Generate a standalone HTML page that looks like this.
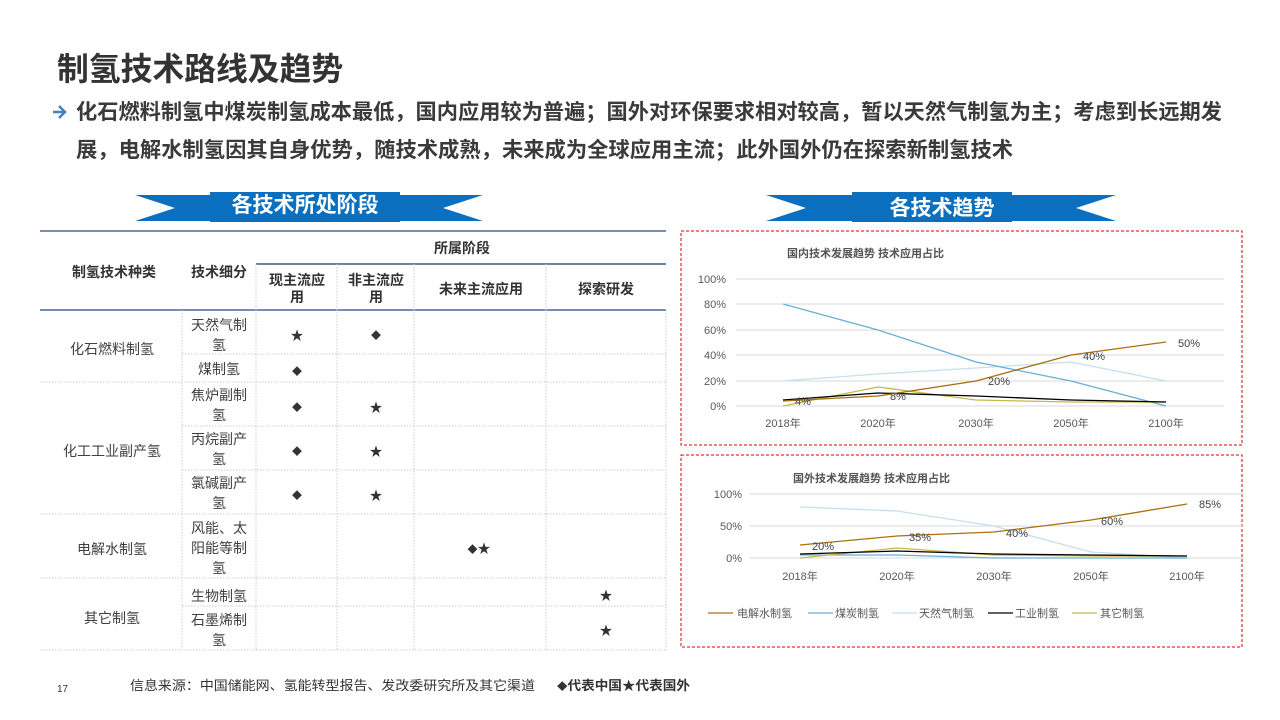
<!DOCTYPE html>
<html><head><meta charset="utf-8"><style>
body{margin:0;background:#fff;}
svg{display:block;font-family:"Liberation Sans","Noto Sans CJK SC",sans-serif;}
</style></head><body>
<svg width="1280" height="720" viewBox="0 0 1280 720" xmlns="http://www.w3.org/2000/svg">
<rect width="1280" height="720" fill="#fff"/>
<text x="57" y="80" font-size="31.8" font-weight="bold" fill="#333">制氢技术路线及趋势</text>
<path d="M53 112 h11 M59 106 l6 6 l-6 6" stroke="#4a7ebb" stroke-width="2.5" fill="none"/>
<text x="76" y="119" font-size="21.3" font-weight="bold" fill="#3a3a3a" textLength="1146" lengthAdjust="spacingAndGlyphs">化石燃料制氢中煤炭制氢成本最低，国内应用较为普遍；国外对环保要求相对较高，暂以天然气制氢为主；考虑到长远期发</text>
<text x="76" y="157" font-size="21.3" font-weight="bold" fill="#3a3a3a">展，电解水制氢因其自身优势，随技术成熟，未来成为全球应用主流；此外国外仍在探索新制氢技术</text>

<!-- banners -->
<g fill="#0a6fbf">
<polygon points="135,195 300,195 300,221 135,221 175,208"/>
<polygon points="483,195 320,195 320,221 483,221 443,208"/>
<rect x="210" y="192" width="190" height="30"/>
<polygon points="766,195 930,195 930,221 766,221 806,208"/>
<polygon points="1116,195 950,195 950,221 1116,221 1076,208"/>
<rect x="852" y="192" width="160" height="30"/>
</g>
<text x="305" y="212" font-size="21" font-weight="bold" fill="#fff" text-anchor="middle">各技术所处阶段</text>
<text x="942" y="215" font-size="21" font-weight="bold" fill="#fff" text-anchor="middle">各技术趋势</text>

<!-- table -->
<g font-size="14" fill="#404040" text-anchor="middle">
<line x1="40" y1="231" x2="666" y2="231" stroke="#4a6a94" stroke-width="1.5"/>
<line x1="256" y1="264" x2="666" y2="264" stroke="#1f3a60" stroke-width="1.2"/>
<line x1="40" y1="310" x2="666" y2="310" stroke="#4a6a94" stroke-width="1.5"/>
<g stroke="#ccc" stroke-dasharray="1.5,1.5" stroke-width="1">
<line x1="182" y1="354" x2="666" y2="354"/>
<line x1="40" y1="382" x2="666" y2="382"/>
<line x1="182" y1="426" x2="666" y2="426"/>
<line x1="182" y1="470" x2="666" y2="470"/>
<line x1="40" y1="514" x2="666" y2="514"/>
<line x1="40" y1="578" x2="666" y2="578"/>
<line x1="182" y1="606" x2="666" y2="606"/>
<line x1="40" y1="650" x2="666" y2="650"/>
<line x1="182" y1="310" x2="182" y2="650"/>
<line x1="256" y1="264" x2="256" y2="650"/>
<line x1="337" y1="264" x2="337" y2="650"/>
<line x1="414" y1="264" x2="414" y2="650"/>
<line x1="546" y1="264" x2="546" y2="650"/>
<line x1="666" y1="310" x2="666" y2="650"/>
</g>
<g font-weight="bold" fill="#333">
<text x="462" y="253">所属阶段</text>
<text x="114" y="277">制氢技术种类</text>
<text x="219" y="277">技术细分</text>
<text x="297" y="285">现主流应</text><text x="297" y="302">用</text>
<text x="376" y="285">非主流应</text><text x="376" y="302">用</text>
<text x="481" y="294">未来主流应用</text>
<text x="606" y="294">探索研发</text>
</g>
<text x="112" y="354">化石燃料制氢</text>
<text x="219" y="330">天然气制</text><text x="219" y="350">氢</text>
<text x="219" y="374">煤制氢</text>
<text x="112" y="456">化工工业副产氢</text>
<text x="219" y="400">焦炉副制</text><text x="219" y="420">氢</text>
<text x="219" y="444">丙烷副产</text><text x="219" y="464">氢</text>
<text x="219" y="488">氯碱副产</text><text x="219" y="508">氢</text>
<text x="112" y="554">电解水制氢</text>
<text x="219" y="533">风能、太</text><text x="219" y="553">阳能等制</text><text x="219" y="573">氢</text>
<text x="112" y="623">其它制氢</text>
<text x="219" y="601">生物制氢</text>
<text x="219" y="625">石墨烯制</text><text x="219" y="645">氢</text>
<g font-size="13" fill="#333">
<text x="297" y="340">★</text><text x="376" y="339" font-size="10">◆</text>
<text x="297" y="375" font-size="10">◆</text>
<text x="297" y="411" font-size="10">◆</text><text x="376" y="412">★</text>
<text x="297" y="455" font-size="10">◆</text><text x="376" y="456">★</text>
<text x="297" y="499" font-size="10">◆</text><text x="376" y="500">★</text>
<text x="479" y="553"><tspan font-size="10">◆</tspan>★</text>
<text x="606" y="600">★</text>
<text x="606" y="635">★</text>
</g>
</g>

<!-- chart 1 -->
<rect x="681" y="231" width="561" height="214" fill="none" stroke="#d00" stroke-dasharray="3,2" stroke-width="1"/>
<text x="787" y="257" font-size="11" font-weight="bold" fill="#555">国内技术发展趋势  技术应用占比</text>
<g stroke="#d9d9d9" stroke-width="1">
<line x1="736" y1="279" x2="1224" y2="279"/><line x1="736" y1="304" x2="1224" y2="304"/><line x1="736" y1="330" x2="1224" y2="330"/><line x1="736" y1="355" x2="1224" y2="355"/><line x1="736" y1="381" x2="1224" y2="381"/><line x1="736" y1="406" x2="1224" y2="406"/>
</g>
<g font-size="11" fill="#595959" text-anchor="end">
<text x="726" y="283">100%</text><text x="726" y="308">80%</text><text x="726" y="334">60%</text><text x="726" y="359">40%</text><text x="726" y="385">20%</text><text x="726" y="410">0%</text>
</g>
<g font-size="11" fill="#595959" text-anchor="middle">
<text x="783" y="427">2018年</text><text x="878" y="427">2020年</text><text x="976" y="427">2030年</text><text x="1071" y="427">2050年</text><text x="1166" y="427">2100年</text>
</g>
<g fill="none" stroke-width="1.3">
<polyline stroke="#c5dff0" points="783,381 878,374 976,368 1071,362 1166,381"/>
<polyline stroke="#6baed6" points="783,304 878,330 976,362 1071,381 1166,406"/>
<polyline stroke="#c8b84a" points="783,406 878,387 976,400 1071,402 1166,402"/>
<polyline stroke="#000" points="783,400 878,393 976,396 1071,400 1166,402"/>
<polyline stroke="#a8700f" points="783,401 878,396 976,381 1071,355 1166,342"/>
</g>
<g font-size="11" fill="#404040">
<text x="795" y="405">4%</text><text x="890" y="400">8%</text><text x="988" y="385">20%</text><text x="1083" y="360">40%</text><text x="1178" y="347">50%</text>
</g>

<!-- chart 2 -->
<rect x="681" y="455" width="561" height="192" fill="none" stroke="#d00" stroke-dasharray="3,2" stroke-width="1"/>
<text x="793" y="482" font-size="11" font-weight="bold" fill="#555">国外技术发展趋势  技术应用占比</text>
<g stroke="#d9d9d9" stroke-width="1">
<line x1="750" y1="494" x2="1244" y2="494"/><line x1="750" y1="526" x2="1244" y2="526"/><line x1="750" y1="558" x2="1244" y2="558"/>
</g>
<g font-size="11" fill="#595959" text-anchor="end">
<text x="742" y="498">100%</text><text x="742" y="530">50%</text><text x="742" y="562">0%</text>
</g>
<g font-size="11" fill="#595959" text-anchor="middle">
<text x="800" y="580">2018年</text><text x="897" y="580">2020年</text><text x="994" y="580">2030年</text><text x="1091" y="580">2050年</text><text x="1187" y="580">2100年</text>
</g>
<g fill="none" stroke-width="1.3">
<polyline stroke="#c5dff0" points="800,507 897,511 994,526 1091,552 1187,558"/>
<polyline stroke="#6baed6" points="800,555 897,555 994,558 1091,558 1187,558"/>
<polyline stroke="#c8b84a" points="800,558 897,548 994,555 1091,556 1187,556"/>
<polyline stroke="#000" points="800,554 897,551 994,554 1091,555 1187,556"/>
<polyline stroke="#a8700f" points="800,545 897,536 994,532 1091,520 1187,504"/>
</g>
<g font-size="11" fill="#404040">
<text x="812" y="550">20%</text><text x="909" y="541">35%</text><text x="1006" y="537">40%</text><text x="1101" y="525">60%</text><text x="1199" y="508">85%</text>
</g>
<g font-size="11" fill="#595959">
<line x1="708" y1="613" x2="733" y2="613" stroke="#a8700f" stroke-width="1.3"/><text x="737" y="617">电解水制氢</text>
<line x1="808" y1="613" x2="833" y2="613" stroke="#6baed6" stroke-width="1.3"/><text x="835" y="617">煤炭制氢</text>
<line x1="892" y1="613" x2="917" y2="613" stroke="#c5dff0" stroke-width="1.3"/><text x="919" y="617">天然气制氢</text>
<line x1="988" y1="613" x2="1013" y2="613" stroke="#000" stroke-width="1.3"/><text x="1015" y="617">工业制氢</text>
<line x1="1072" y1="613" x2="1097" y2="613" stroke="#c8b84a" stroke-width="1.3"/><text x="1100" y="617">其它制氢</text>
</g>

<text x="57" y="692" font-size="10" fill="#333">17</text>
<text x="130" y="690" font-size="13" fill="#333" textLength="405" lengthAdjust="spacingAndGlyphs">信息来源：中国储能网、氢能转型报告、发改委研究所及其它渠道</text>
<text x="557" y="690" font-size="13" font-weight="bold" fill="#333" textLength="133" lengthAdjust="spacingAndGlyphs"><tspan font-size="10">◆</tspan>代表中国★代表国外</text>
</svg>
</body></html>
